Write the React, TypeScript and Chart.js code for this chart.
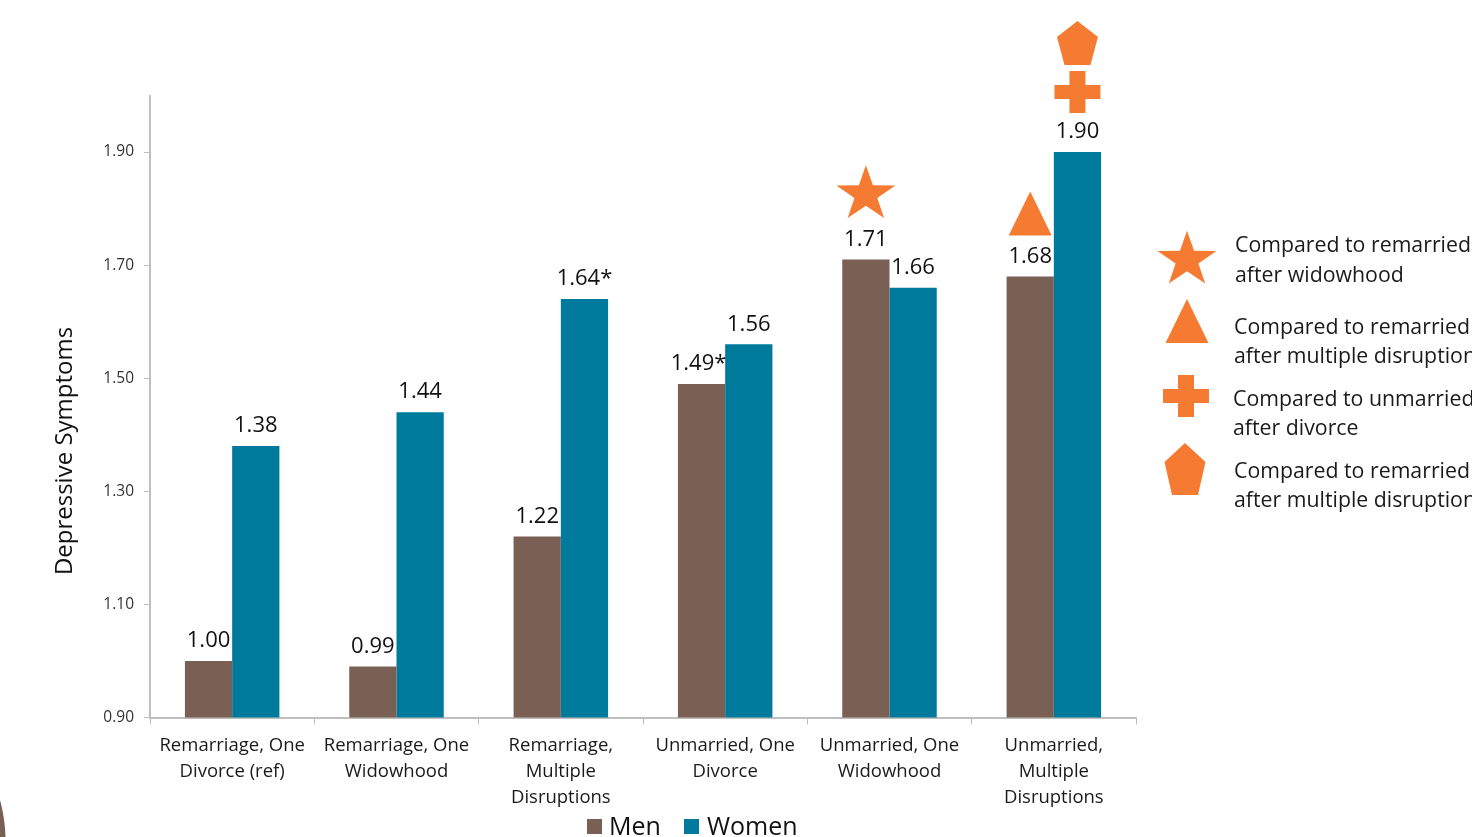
import React, { useEffect, useRef } from "react";
import { Chart, registerables } from "chart.js";

Chart.register(...registerables);

const categories = [
  ["Remarriage, One", "Divorce (ref)"],
  ["Remarriage, One", "Widowhood"],
  ["Remarriage,", "Multiple", "Disruptions"],
  ["Unmarried, One", "Divorce"],
  ["Unmarried, One", "Widowhood"],
  ["Unmarried,", "Multiple", "Disruptions"],
];
const men = [1.0, 0.99, 1.22, 1.49, 1.71, 1.68];
const women = [1.38, 1.44, 1.64, 1.56, 1.66, 1.9];
const menSuffix = ["", "", "", "*", "", ""];
const womenSuffix = ["", "", "*", "", "", ""];
const yTickValues = [0.9, 1.1, 1.3, 1.5, 1.7, 1.9];

const BROWN = "#7A5F54";
const TEAL = "#007A9C";
const ORANGE = "#F57B33";
const AXIS = "#BFBFBF";
const FONT = "'Open Sans', sans-serif";

type Symbol = "star" | "triangle" | "plus" | "pentagon";

// Significance symbols stacked above a bar: series index, category index, shape, lift above the bar top.
const barSymbols: [number, number, Symbol, number][] = [
  [0, 4, "star", 65],
  [0, 5, "triangle", 63],
  [1, 5, "plus", 60],
  [1, 5, "pentagon", 109],
];

const keyRows: { symbol: Symbol; cx: number; cy: number; tall: number; x: number; lines: [string, number][] }[] = [
  { symbol: "star", cx: 1187, cy: 260, tall: 1, x: 1235, lines: [["Compared to remarried", 246], ["after widowhood", 276]] },
  { symbol: "triangle", cx: 1187, cy: 321, tall: 1, x: 1234, lines: [["Compared to remarried", 328], ["after multiple disruptions", 357]] },
  { symbol: "plus", cx: 1186, cy: 396, tall: 1, x: 1233, lines: [["Compared to unmarried", 400], ["after divorce", 429]] },
  { symbol: "pentagon", cx: 1185, cy: 469, tall: 1.18, x: 1234, lines: [["Compared to remarried", 472], ["after multiple disruptions", 501]] },
];

function polygon(ctx: CanvasRenderingContext2D, pts: [number, number][]) {
  ctx.beginPath();
  pts.forEach(([x, y], i) => (i ? ctx.lineTo(x, y) : ctx.moveTo(x, y)));
  ctx.closePath();
  ctx.fill();
}

function drawSymbol(ctx: CanvasRenderingContext2D, kind: Symbol, cx: number, cy: number, tall = 1) {
  ctx.fillStyle = ORANGE;
  if (kind === "star") {
    const pts: [number, number][] = [];
    for (let i = 0; i < 10; i++) {
      const r = i % 2 ? 12 : 31;
      const a = -Math.PI / 2 + (i * Math.PI) / 5;
      pts.push([cx + r * Math.cos(a), cy + 0.94 * r * Math.sin(a)]);
    }
    polygon(ctx, pts);
  } else if (kind === "triangle") {
    polygon(ctx, [[cx, cy - 22], [cx + 21.5, cy + 22], [cx - 21.5, cy + 22]]);
  } else if (kind === "plus") {
    const a = 23, b = 21, t = 8;
    polygon(ctx, [
      [cx - t, cy - b], [cx + t, cy - b], [cx + t, cy - 7], [cx + a, cy - 7],
      [cx + a, cy + 7], [cx + t, cy + 7], [cx + t, cy + b], [cx - t, cy + b],
      [cx - t, cy + 7], [cx - a, cy + 7], [cx - a, cy - 7], [cx - t, cy - 7],
    ]);
  } else {
    polygon(ctx, [
      [cx, cy - 22 * tall], [cx + 20.5, cy - 6 * tall], [cx + 13, cy + 22 * tall],
      [cx - 13, cy + 22 * tall], [cx - 20.5, cy - 6 * tall],
    ]);
  }
}

const annotationPlugin = {
  id: "annotations",
  afterDraw(chart: any) {
    const ctx: CanvasRenderingContext2D = chart.ctx;
    ctx.save();

    // Value labels above each bar
    ctx.textAlign = "center";
    ctx.textBaseline = "middle";
    ctx.fillStyle = "#111111";
    ctx.font = `22px ${FONT}`;
    const series: [number, number[], string[]][] = [[0, men, menSuffix], [1, women, womenSuffix]];
    series.forEach(([idx, values, suffix]) => {
      const meta = chart.getDatasetMeta(idx);
      values.forEach((v, i) => {
        const el = meta.data[i];
        const nudge = suffix[i] && idx === 0 ? -3 : 0;
        ctx.fillText(v.toFixed(2) + suffix[i], el.x + nudge, el.y - 20);
      });
    });

    // Orange significance symbols
    barSymbols.forEach(([ds, i, kind, lift]) => {
      const el = chart.getDatasetMeta(ds).data[i];
      drawSymbol(ctx, kind, el.x, el.y - lift);
    });

    // Symbol key on the right
    ctx.textAlign = "left";
    ctx.font = `21.3px ${FONT}`;
    keyRows.forEach((row) => {
      drawSymbol(ctx, row.symbol, row.cx, row.cy, row.tall);
      ctx.fillStyle = "#1A1A1A";
      row.lines.forEach(([t, y]) => ctx.fillText(t, row.x, y));
    });

    // Vertical axis title
    ctx.save();
    ctx.translate(65.5, 451);
    ctx.rotate(-Math.PI / 2);
    ctx.textAlign = "center";
    ctx.fillStyle = "#111111";
    ctx.font = `24px ${FONT}`;
    ctx.fillText("Depressive Symptoms", 0, 0);
    ctx.restore();

    // Series legend under the axis
    ctx.font = `25px ${FONT}`;
    ctx.fillStyle = BROWN;
    ctx.fillRect(587, 819, 15, 15);
    ctx.fillStyle = TEAL;
    ctx.fillRect(684, 819, 15, 15);
    ctx.fillStyle = "#111111";
    ctx.textAlign = "left";
    chart.data.datasets.forEach((d: any, i: number) => {
      ctx.fillText(d.label, i ? 707 : 609, 828);
    });

    // Decorative arc in the lower-left corner
    ctx.fillStyle = BROWN;
    ctx.beginPath();
    ctx.moveTo(0, 800);
    ctx.quadraticCurveTo(5, 818, 5.5, 837);
    ctx.lineTo(0, 837);
    ctx.closePath();
    ctx.fill();

    ctx.restore();
  },
};

export default function App() {
  const ref = useRef<HTMLCanvasElement>(null);

  useEffect(() => {
    const chart = new Chart(ref.current!, {
      type: "bar",
      data: {
        labels: categories,
        datasets: [
          { label: "Men", data: men, backgroundColor: BROWN, barPercentage: 1, categoryPercentage: 0.575 },
          { label: "Women", data: women, backgroundColor: TEAL, barPercentage: 1, categoryPercentage: 0.575 },
        ],
      },
      options: {
        animation: false,
        responsive: false,
        layout: { padding: { left: 0, top: 95.5, right: 336, bottom: 19.5 } },
        plugins: { legend: { display: false }, tooltip: { enabled: false }, title: { display: false } },
        scales: {
          x: {
            afterFit: (s: any) => { s.height = 100; },
            grid: { drawOnChartArea: false, tickLength: 7, tickColor: AXIS, tickWidth: 1 },
            border: { color: AXIS, width: 2 },
            ticks: {
              autoSkip: false,
              maxRotation: 0,
              padding: 8,
              color: "#1A1A1A",
              font: { family: FONT, size: 18.5, lineHeight: 1.405 },
            },
          },
          y: {
            min: 0.9,
            max: 2.0,
            afterFit: (s: any) => { s.width = 150; },
            afterBuildTicks: (s: any) => { s.ticks = yTickValues.map((value) => ({ value })); },
            grid: { drawOnChartArea: false, tickLength: 6, tickColor: AXIS, tickWidth: 1 },
            border: { color: AXIS, width: 2 },
            ticks: {
              padding: 10,
              color: "#333333",
              font: { family: FONT, size: 15.5 },
              callback: (v: any) => Number(v).toFixed(2),
            },
          },
        },
      },
      plugins: [annotationPlugin],
    } as any);
    return () => chart.destroy();
  }, []);

  return (
    <canvas
      ref={ref}
      width={1472}
      height={837}
      style={{ position: "absolute", left: 0, top: 0, display: "block" }}
    />
  );
}
